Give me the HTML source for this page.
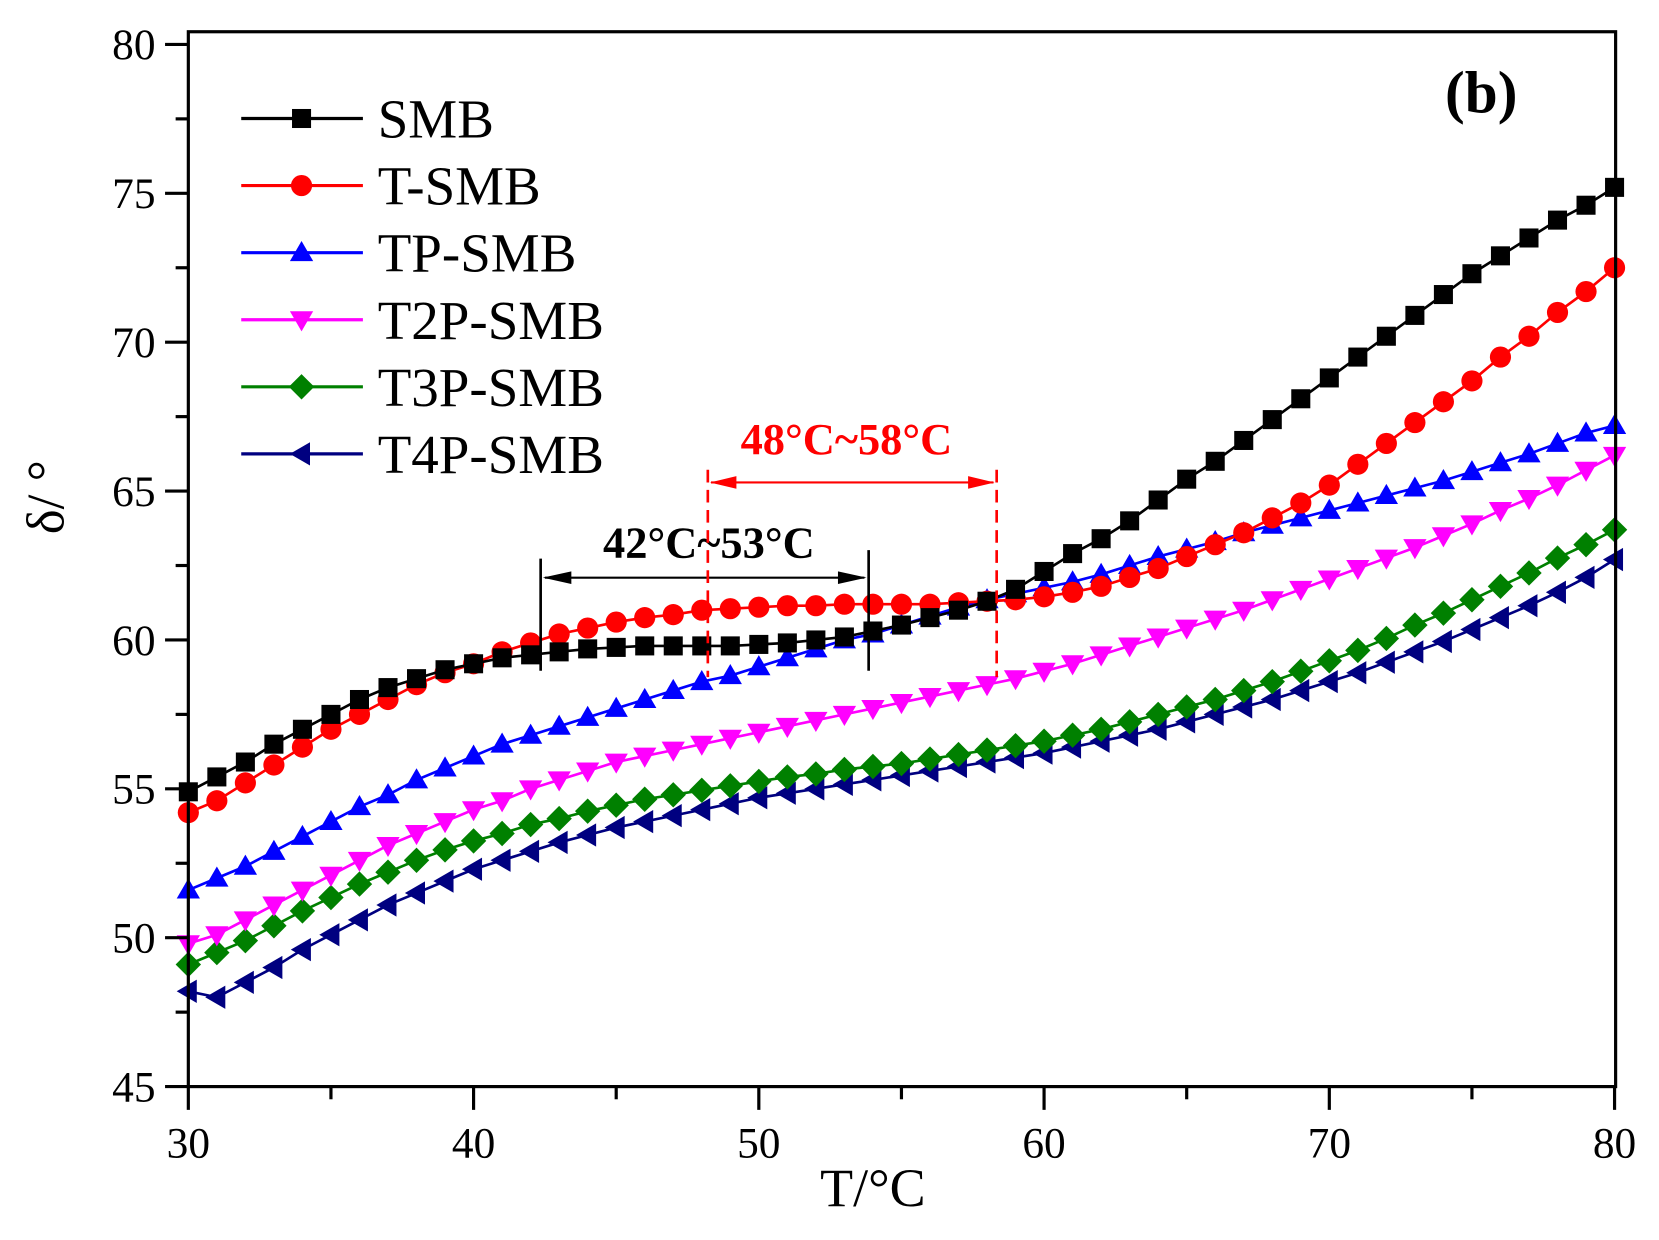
<!DOCTYPE html>
<html><head><meta charset="utf-8"><style>
html,body{margin:0;padding:0;background:#fff;}
svg{display:block;font-family:"Liberation Serif",serif;}
</style></head><body>
<svg id="chart" width="1659" height="1240" viewBox="0 0 1568 1172" preserveAspectRatio="none" xmlns="http://www.w3.org/2000/svg"></svg>
<script>
const temps = [];
for (let t = 30; t <= 80; t++) temps.push(t);
const smb = [54.9,55.4,55.9,56.5,57.0,57.5,58.0,58.4,58.7,59.0,59.2,59.4,59.5,59.6,59.7,59.75,59.8,59.8,59.8,59.8,59.85,59.9,60.0,60.1,60.3,60.5,60.75,61.0,61.3,61.7,62.3,62.9,63.4,64.0,64.7,65.4,66.0,66.7,67.4,68.1,68.8,69.5,70.2,70.9,71.6,72.3,72.9,73.5,74.1,74.6,75.2];
const tSmb = [54.2,54.6,55.2,55.8,56.4,57.0,57.5,58.0,58.5,58.9,59.2,59.6,59.9,60.2,60.4,60.6,60.75,60.85,61.0,61.05,61.1,61.15,61.15,61.2,61.2,61.2,61.2,61.25,61.3,61.35,61.45,61.6,61.8,62.1,62.4,62.8,63.2,63.6,64.1,64.6,65.2,65.9,66.6,67.3,68.0,68.7,69.5,70.2,71.0,71.7,72.5];
const tpSmb = [51.6,52.0,52.4,52.9,53.4,53.9,54.4,54.8,55.3,55.7,56.1,56.5,56.8,57.1,57.4,57.7,58.0,58.3,58.6,58.8,59.1,59.4,59.7,60.0,60.2,60.5,60.8,61.1,61.35,61.55,61.75,61.95,62.2,62.5,62.8,63.05,63.3,63.6,63.85,64.1,64.35,64.6,64.85,65.1,65.35,65.65,65.95,66.25,66.6,66.95,67.2];
const t2pSmb = [49.8,50.1,50.6,51.1,51.6,52.1,52.6,53.1,53.5,53.9,54.3,54.6,55.0,55.3,55.6,55.9,56.1,56.3,56.5,56.7,56.9,57.1,57.3,57.5,57.7,57.9,58.1,58.3,58.5,58.7,58.95,59.2,59.5,59.8,60.1,60.4,60.7,61.0,61.35,61.7,62.05,62.4,62.75,63.1,63.5,63.9,64.35,64.75,65.2,65.7,66.2];
const t3pSmb = [49.1,49.5,49.9,50.4,50.9,51.35,51.8,52.2,52.6,52.95,53.25,53.5,53.8,54.0,54.25,54.45,54.65,54.8,54.95,55.1,55.25,55.4,55.5,55.65,55.75,55.85,56.0,56.15,56.3,56.45,56.6,56.8,57.0,57.25,57.5,57.75,58.0,58.3,58.6,58.95,59.3,59.65,60.05,60.5,60.9,61.35,61.8,62.25,62.75,63.2,63.7];
const t4pSmb = [48.2,48.0,48.5,49.0,49.6,50.1,50.6,51.1,51.5,51.9,52.3,52.6,52.9,53.2,53.45,53.7,53.9,54.1,54.3,54.5,54.7,54.85,55.0,55.15,55.3,55.45,55.6,55.75,55.9,56.05,56.2,56.4,56.6,56.8,57.0,57.25,57.5,57.75,58.0,58.3,58.6,58.9,59.25,59.6,59.95,60.35,60.75,61.15,61.6,62.1,62.7];
const seriesNames = ["SMB","T-SMB","TP-SMB","T2P-SMB","T3P-SMB","T4P-SMB"];
const xTicks = [30,40,50,60,70,80];
const yTicks = [45,50,55,60,65,70,75,80];

const NS = "http://www.w3.org/2000/svg";
const svg = document.getElementById('chart');
const X0=178, X1=1526, Y0=1027, Y1=42;
const xs = v => X0 + (v-30)/(80-30)*(X1-X0);
const ys = v => Y0 - (v-45)/(80-45)*(Y0-Y1);
function mk(tag, attrs, parent){const e=document.createElementNS(NS,tag);for(const k in attrs)e.setAttribute(k,attrs[k]);(parent||svg).appendChild(e);return e;}

const series = [
 {name:seriesNames[0],data:smb,color:"#000000",m:"square"},
 {name:seriesNames[1],data:tSmb,color:"#ff0000",m:"circle"},
 {name:seriesNames[2],data:tpSmb,color:"#0000ff",m:"up"},
 {name:seriesNames[3],data:t2pSmb,color:"#ff00ff",m:"down"},
 {name:seriesNames[4],data:t3pSmb,color:"#008000",m:"diamond"},
 {name:seriesNames[5],data:t4pSmb,color:"#000080",m:"left"}
];
function marker(g,type,x,y,c){
  let e;
  if(type==="square") e=mk('rect',{x:x-9,y:y-9,width:18,height:18,fill:c},g);
  else if(type==="circle") e=mk('circle',{cx:x,cy:y,r:10,fill:c},g);
  else if(type==="up") e=mk('polygon',{points:`${x},${y-11} ${x-11},${y+8} ${x+11},${y+8}`,fill:c},g);
  else if(type==="down") e=mk('polygon',{points:`${x},${y+11} ${x-11},${y-8} ${x+11},${y-8}`,fill:c},g);
  else if(type==="diamond") e=mk('polygon',{points:`${x},${y-12} ${x+12},${y} ${x},${y+12} ${x-12},${y}`,fill:c},g);
  else e=mk('polygon',{points:`${x-11},${y} ${x+8},${y-11} ${x+8},${y+11}`,fill:c},g);
  return e;
}
const plot = mk('g',{});


for (let si=series.length-1; si>=0; si--){
  const s=series[si];
  const g=mk('g',{},plot);
  
  
  const pts=s.data.map((v,i)=>xs(temps[i])+','+ys(v)).join(' ');
  const pl=mk('polyline',{points:pts,fill:'none',stroke:s.color,'stroke-width':2.5},g);
  
  
  s.data.forEach((v,i)=>{
    const m=marker(g,s.m,xs(temps[i]),ys(v),s.color);
    
    
  });
}
const frame=mk('rect',{x:X0,y:30,width:X1-X0+1,height:Y0-30,fill:'none',stroke:'#000','stroke-width':3});


xTicks.forEach(t=>{
  const x=xs(t);
  mk('line',{x1:x,y1:Y0,x2:x,y2:Y0+22,stroke:'#000','stroke-width':3});
  const tx=mk('text',{x:x,y:Y0+67,'font-size':41,'text-anchor':'middle'});
  tx.textContent=t;
  
  
  if(t<80){const xm=xs(t+5);mk('line',{x1:xm,y1:Y0,x2:xm,y2:Y0+12,stroke:'#000','stroke-width':3});}
});
yTicks.forEach(t=>{
  const y=ys(t);
  mk('line',{x1:X0,y1:y,x2:X0-22,y2:y,stroke:'#000','stroke-width':3});
  const tx=mk('text',{x:X0-31,y:y+14,'font-size':41,'text-anchor':'end'});
  tx.textContent=t;
  
  
  if(t<80){const ym=ys(t+2.5);mk('line',{x1:X0,y1:ym,x2:X0-12,y2:ym,stroke:'#000','stroke-width':3});}
});
const xt=mk('text',{x:825,y:1140,'font-size':51,'text-anchor':'middle'});
xt.textContent='T/°C';


const yt=mk('text',{x:0,y:0,'font-size':50,'text-anchor':'middle',transform:'translate(60,470) rotate(-90)'});
yt.textContent='δ/ °';


const pb=mk('text',{x:1400,y:106,'font-size':56,'font-weight':'bold','text-anchor':'middle'});
pb.textContent='(b)';


const lg=mk('g',{});


series.forEach((s,i)=>{
  const y=112+i*63.4;
  const e=mk('g',{},lg);
  
  
  mk('line',{x1:228,y1:y,x2:343,y2:y,stroke:s.color,'stroke-width':3},e);
  marker(e,s.m,285,y,s.color);
  const tx=mk('text',{x:357,y:y+18,'font-size':52},e);
  tx.textContent=s.name;
});
const an=mk('g',{});


mk('line',{x1:511,y1:528,x2:511,y2:634,stroke:'#000','stroke-width':2.5},an);
mk('line',{x1:821,y1:520,x2:821,y2:634,stroke:'#000','stroke-width':2.5},an);
mk('line',{x1:515,y1:546,x2:817,y2:546,stroke:'#000','stroke-width':2},an);
mk('polygon',{points:'513,546 540,540 540,552',fill:'#000'},an);
mk('polygon',{points:'819,546 792,540 792,552',fill:'#000'},an);
const a1=mk('text',{x:670,y:527,'font-size':42,'font-weight':'bold','text-anchor':'middle'},an);
a1.textContent='42°C~53°C';
mk('line',{x1:669,y1:444,x2:669,y2:640,stroke:'#ff0000','stroke-width':2.5,'stroke-dasharray':'12,7'},an);
mk('line',{x1:942,y1:444,x2:942,y2:640,stroke:'#ff0000','stroke-width':2.5,'stroke-dasharray':'12,7'},an);
mk('line',{x1:672,y1:456,x2:939,y2:456,stroke:'#ff0000','stroke-width':2},an);
mk('polygon',{points:'671,456 696,450 696,462',fill:'#ff0000'},an);
mk('polygon',{points:'940,456 915,450 915,462',fill:'#ff0000'},an);
const a2=mk('text',{x:800,y:429,'font-size':42,'font-weight':'bold','text-anchor':'middle',fill:'#ff0000'},an);
a2.textContent='48°C~58°C';
</script>
</body></html>
